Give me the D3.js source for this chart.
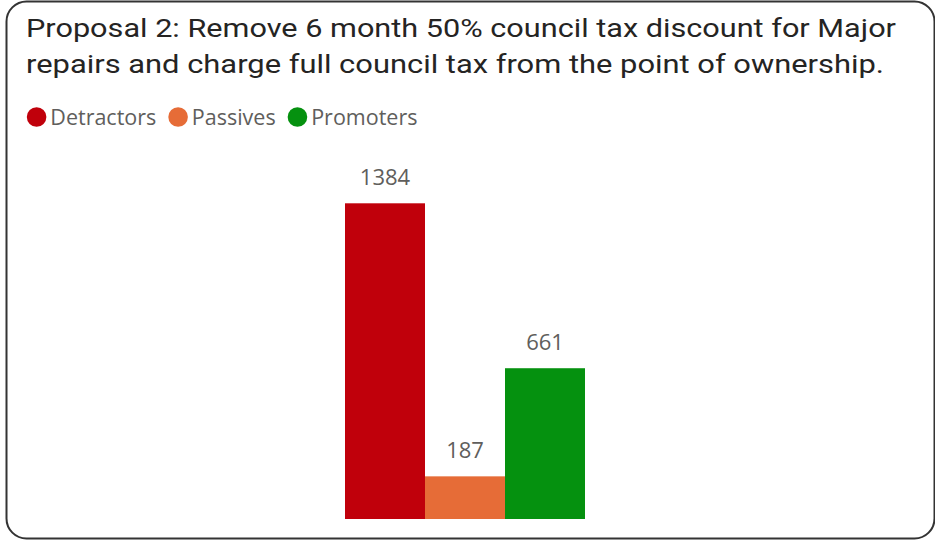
<!DOCTYPE html>
<html>
<head>
<meta charset="utf-8">
<script src="https://cdn.jsdelivr.net/npm/d3@7"></script>
<style>
  html, body { margin: 0; padding: 0; background: #fff; }
  svg { display: block; }
</style>
</head>
<body>
<svg id="chart" width="935" height="540"></svg>
<script>
const titleLines = [
  "Proposal 2: Remove 6 month 50% council tax discount for Major",
  "repairs and charge full council tax from the point of ownership."
];
const categories = ["Detractors", "Passives", "Promoters"];
const values = [1384, 187, 661];
const colors = ["#C0000B", "#E66C37", "#05910F"];

const svg = d3.select("#chart");

// card border
svg.append("rect")
  .attr("x", 6.5).attr("y", 1.5)
  .attr("width", 928).attr("height", 537)
  .attr("rx", 20).attr("ry", 20)
  .attr("fill", "#fff")
  .attr("stroke", "#333")
  .attr("stroke-width", 2);

// title
const title = svg.append("text")
  .attr("font-family", "Roboto, 'Noto Sans', sans-serif")
  .attr("font-size", 26.5)
  .attr("fill", "#252423");
const titleTargets = [870, 858];
titleLines.forEach((t, i) => {
  const ts = title.append("tspan")
    .attr("x", 26)
    .attr("y", 37 + i * 36)
    .text(t);
  const w = ts.node().getComputedTextLength();
  if (Math.abs(w - titleTargets[i]) > 3) {
    ts.attr("textLength", titleTargets[i]).attr("lengthAdjust", "spacingAndGlyphs");
  }
});

// legend
const legendFont = "'Open Sans', 'Noto Sans', sans-serif";
const legend = svg.append("g");
let lx = 26.8;
categories.forEach((c, i) => {
  legend.append("circle")
    .attr("cx", lx + 9.8).attr("cy", 117).attr("r", 9.8)
    .attr("fill", colors[i]);
  const t = legend.append("text")
    .attr("x", lx + 23.5).attr("y", 124.5)
    .attr("font-family", legendFont)
    .attr("font-size", 21.5)
    .attr("fill", "#605E5C")
    .text(c);
  lx = lx + 23.5 + t.node().getComputedTextLength() + 12;
});

// scales
const x = d3.scaleBand().domain(categories).range([345, 585]).padding(0);
const y = d3.scaleLinear().domain([0, 1384]).range([519, 203.3]);

const data = categories.map((c, i) => ({ cat: c, val: values[i], col: colors[i] }));

svg.append("g").selectAll("rect")
  .data(data).join("rect")
  .attr("x", d => x(d.cat))
  .attr("y", d => y(d.val))
  .attr("width", x.bandwidth())
  .attr("height", d => y(0) - y(d.val))
  .attr("fill", d => d.col);

svg.append("g").selectAll("text")
  .data(data).join("text")
  .attr("x", d => x(d.cat) + x.bandwidth() / 2)
  .attr("y", d => y(d.val) - 18)
  .attr("text-anchor", "middle")
  .attr("font-family", legendFont)
  .attr("font-size", 22)
  .attr("fill", "#605E5C")
  .text(d => d3.format("d")(d.val));
</script>
</body>
</html>
